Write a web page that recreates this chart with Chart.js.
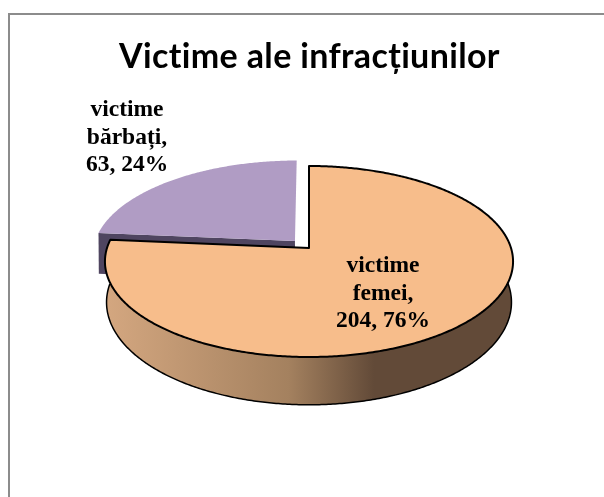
<!DOCTYPE html>
<html>
<head>
<meta charset="utf-8">
<script src="https://cdn.jsdelivr.net/npm/chart.js@4"></script>
<style>
  html, body { margin:0; padding:0; background:#fff; }
  canvas { display:block; }
</style>
</head>
<body>
<canvas id="pieChart" width="604" height="497"></canvas>
<script>
  // Victime ale infractiunilor
  const categories = ['victime femei', 'victime bărbați'];
  const victims = [204, 63];
  const topColors = ['#f7bd8b', '#b09cc4'];
  const labelCenters = [[383, 272], [127, 116]];

  // the tilted disc: a unit circle seen in perspective
  const topFace = { x:309, y:248, a:202, b:93.6, k:-0.1414 };
  const bottomFace = { x:309, y:290, a:201, b:101, k:-0.12 };

  function project(face, u, v) {
    const w = 1 + face.k * v;
    return [face.x + face.a * u / w, face.y + face.b * v / w];
  }

  function arcPoints(face, start, end, ox, oy) {
    const pts = [];
    const steps = Math.max(1, Math.ceil(Math.abs(end - start) / 0.01));
    for (let i = 0; i <= steps; i++) {
      const t = start + (end - start) * i / steps;
      pts.push(project(face, Math.cos(t) + ox, Math.sin(t) + oy));
    }
    return pts;
  }

  function tracePoly(ctx, pts) {
    ctx.beginPath();
    pts.forEach((p, i) => i ? ctx.lineTo(p[0], p[1]) : ctx.moveTo(p[0], p[1]));
  }

  const disc3d = {
    id: 'disc3d',
    beforeDraw(chart) {
      const ctx = chart.ctx;
      ctx.letterSpacing = '0.35px'; // keeps the title from getting ligatures
      ctx.save();
      ctx.strokeStyle = '#8c8c8c';
      ctx.lineWidth = 2;
      ctx.beginPath();
      ctx.moveTo(9, 497);
      ctx.lineTo(9, 14);
      ctx.lineTo(604, 14);
      ctx.stroke();
      ctx.restore();
    },
    beforeDatasetDraw(chart, args) {
      const ctx = chart.ctx;
      const arcs = chart.getDatasetMeta(args.index).data;
      ctx.save();
      ctx.lineJoin = 'round';

      // exploded slice first, it sits behind
      const b = arcs[1];
      const mid = (b.startAngle + b.endAngle) / 2;
      const ox = 0.104 * Math.cos(mid), oy = 0.104 * Math.sin(mid);
      const rimTop = project(topFace, Math.cos(b.startAngle) + ox, Math.sin(b.startAngle) + oy);
      const rimBottom = project(bottomFace, Math.cos(b.startAngle) + ox, Math.sin(b.startAngle) + oy);
      ctx.fillStyle = '#4f4560';
      tracePoly(ctx, [project(topFace, ox, oy), rimTop, rimBottom, project(bottomFace, ox, oy)]);
      ctx.closePath();
      ctx.fill();
      ctx.fillStyle = topColors[1];
      tracePoly(ctx, [project(topFace, ox, oy)].concat(arcPoints(topFace, b.startAngle, b.endAngle, ox, oy)));
      ctx.closePath();
      ctx.fill();

      // big slice: rim, then the top
      const f = arcs[0];
      const rimStart = -0.2, rimEnd = Math.PI + 0.06;
      const rim = arcPoints(topFace, rimStart, rimEnd, 0, 0)
        .concat(arcPoints(bottomFace, rimEnd, rimStart, 0, 0));
      const grad = ctx.createLinearGradient(105, 0, 513, 0);
      grad.addColorStop(0, '#d4a780');
      grad.addColorStop(0.45, '#a4815f');
      grad.addColorStop(0.66, '#624a38');
      grad.addColorStop(1, '#624a38');
      ctx.fillStyle = grad;
      ctx.strokeStyle = '#000';
      ctx.lineWidth = 1.5;
      tracePoly(ctx, rim);
      ctx.closePath();
      ctx.fill();
      tracePoly(ctx, arcPoints(bottomFace, rimEnd, rimStart, 0, 0));
      ctx.stroke();

      ctx.fillStyle = topColors[0];
      ctx.lineWidth = 2;
      tracePoly(ctx, [project(topFace, 0, 0)].concat(arcPoints(topFace, f.startAngle, f.endAngle, 0, 0)));
      ctx.closePath();
      ctx.fill();
      ctx.stroke();
      ctx.restore();
      return false;
    },
    afterDatasetsDraw(chart) {
      const ctx = chart.ctx;
      const total = victims.reduce((s, v) => s + v, 0);
      ctx.save();
      ctx.letterSpacing = '0px';
      ctx.fillStyle = '#000';
      ctx.font = 'bold 23.5px "Liberation Serif"';
      ctx.textAlign = 'center';
      ctx.textBaseline = 'alphabetic';
      categories.forEach((name, i) => {
        const words = name.split(' ');
        const lines = [words[0], words[1] + ',', victims[i] + ', ' + Math.round(victims[i] / total * 100) + '%'];
        lines.forEach((line, j) => ctx.fillText(line, labelCenters[i][0], labelCenters[i][1] + j * 27.7));
      });
      ctx.restore();
    }
  };

  new Chart(document.getElementById('pieChart').getContext('2d'), {
    type: 'pie',
    data: {
      labels: categories,
      datasets: [{ data: victims, backgroundColor: topColors }]
    },
    options: {
      responsive: false,
      animation: false,
      layout: { padding: { left: 15, top: 37 } },
      plugins: {
        legend: { display: false },
        tooltip: { enabled: false },
        title: {
          display: true,
          text: 'Victime ale infracțiunilor',
          color: '#000',
          font: { family: 'Lato', weight: 'bold', size: 34 },
          padding: 0
        }
      }
    },
    plugins: [disc3d]
  });
</script>
</body>
</html>
